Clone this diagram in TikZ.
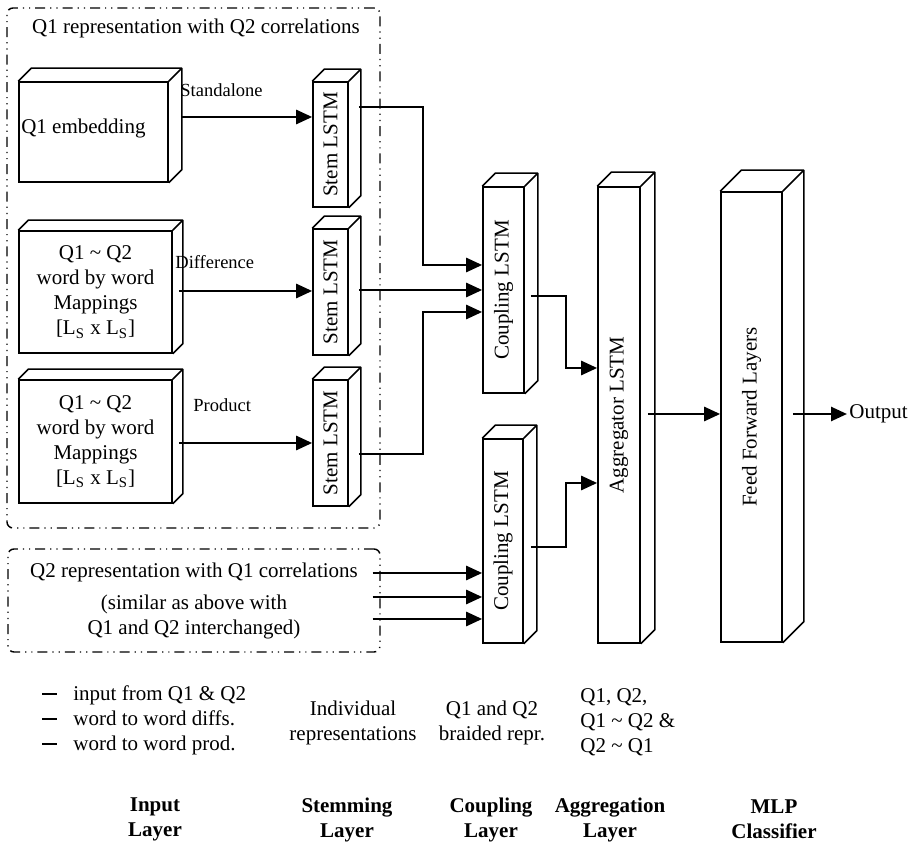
\documentclass[tikz,border=0pt]{standalone}
\usepackage{fontspec}
\setmainfont{Liberation Serif}
\usetikzlibrary{arrows.meta,positioning}
\tikzset{>={Triangle[length=8pt,width=7pt]}}
\tikzset{
    box3d/.style={draw,line width=0.8pt,fill=white,inner sep=0pt,
        append after command={\pgfextra{
            \draw[line width=0.8pt,line join=round]
                (\tikzlastnode.north west) -- ++(#1,-#1)
                -- ([shift={(#1,-#1)}]\tikzlastnode.north east)
                -- ([shift={(#1,-#1)}]\tikzlastnode.south east)
                -- (\tikzlastnode.south east)
                (\tikzlastnode.north east) -- ++(#1,-#1);}}},
    box3d/.default=12,
    frame/.style={draw,line width=0.7pt,rounded corners=3pt,
        dash pattern=on 5pt off 2.5pt on 0.6pt off 2.5pt on 0.6pt off 2.5pt},
    flow/.style={->,line width=1.3pt},
    edgelabel/.style={font=\fontsize{9.25}{11}\selectfont,anchor=west,inner sep=0pt},
    layername/.style={font=\fontsize{10.5}{12.5}\selectfont\bfseries,align=center}
}
\newcommand{\legdash}{\rule[2.6pt]{7.5pt}{0.9pt}\hspace{8pt}}

\begin{document}
\begin{tikzpicture}[x=0.5pt,y=-0.5pt,font=\fontsize{10.5}{12.5}\selectfont]
                \useasboundingbox (0,0) rectangle (912,845);
                % input side
                \node[frame,minimum width=186.5pt,minimum height=260pt] (q1rep) at (193.5,268) {};
                \node (q1title) at (196,28) {Q1 representation with Q2 correlations};
                \node[frame,minimum width=186pt,minimum height=51.5pt,align=center] (q2rep) at (194,600.5)
                    {Q2 representation with Q1 correlations\\[3.5pt](similar as above with\\Q1 and Q2 interchanged)};
                \node[box3d=13,minimum width=74.5pt,minimum height=50pt,
                    label={[anchor=west,xshift=-2pt,yshift=2pt]west:Q1 embedding}] (emb) at (93.5,132) {};
                \node[box3d=10,minimum width=76.5pt,minimum height=61pt,align=center] (map1) at (95.5,292)
                    {Q1 \textasciitilde{} Q2\\word by word\\Mappings\\{[}L\textsubscript{S} x L\textsubscript{S}{]}};
                \node[box3d=10,minimum width=76.5pt,minimum height=61.5pt,align=center] (map2) at (95.5,441.5)
                    {Q1 \textasciitilde{} Q2\\word by word\\Mappings\\{[}L\textsubscript{S} x L\textsubscript{S}{]}};
                % stemming
                \node[box3d,minimum width=17.5pt,minimum height=62.5pt,label={[rotate=90]center:Stem LSTM}] (stem1) at (330.5,144.5) {};
                \node[box3d,minimum width=17.5pt,minimum height=63pt,label={[rotate=90]center:Stem LSTM}] (stem2) at (330.5,292) {};
                \node[box3d,minimum width=17.5pt,minimum height=63pt,label={[rotate=90]center:Stem LSTM}] (stem3) at (330.5,443) {};
                % coupling, aggregation, classifier
                \node[box3d=13,minimum width=20.5pt,minimum height=103pt,label={[rotate=90]center:Coupling LSTM}] (coup1) at (503.5,290) {};
                \node[box3d=13,minimum width=20pt,minimum height=102pt,label={[rotate=90]center:Coupling LSTM}] (coup2) at (503,541) {};
                \node[box3d=14,minimum width=21pt,minimum height=228pt,label={[rotate=90]center:Aggregator LSTM}] (aggr) at (619,415) {};
                \node[box3d=21,minimum width=30.5pt,minimum height=225pt,label={[rotate=90]center:Feed Forward Layers}] (ffl) at (751.5,417) {};
                \node[anchor=west,inner sep=0pt] (out) at (849,414) {Output};

                \node[edgelabel] (lstand) at (180,90) {Standalone};
                \node[edgelabel] (ldiff) at (175,262) {Difference};
                \node[edgelabel] (lprod) at (193,405) {Product};

                \draw[flow] ([shift={(12,-15)}]emb.east) coordinate (e1) -- (e1 -| stem1.west);
                \draw[flow] ([shift={(6,-1)}]map1.east) coordinate (e2) -- (e2 -| stem2.west);
                \draw[flow] ([shift={(6,1.5)}]map2.east) coordinate (e3) -- (e3 -| stem3.west);
                \draw[flow] ([shift={(10,-37.5)}]stem1.east) -- ++(64,0) |- ([shift={(0,-25)}]coup1.west);
                \draw[flow] ([shift={(10,-2)}]stem2.east) -- (coup1.west);
                \draw[flow] ([shift={(10,11)}]stem3.east) -- ++(64,0) |- ([shift={(0,22)}]coup1.west);
                \foreach \dy in {-27.5,-3.5,18.5}
                    \draw[flow] ([shift={(-8,\dy)}]q2rep.east) coordinate (q) -- (q -| coup2.west);
                \draw[flow] ([shift={(6,6)}]coup1.east) -- ++(35,0) |- ([shift={(0,-47)}]aggr.west);
                \draw[flow] ([shift={(7,6)}]coup2.east) -- ++(35,0) |- ([shift={(0,68)}]aggr.west);
                \draw[flow] ([shift={(7,-1)}]aggr.east) coordinate (e4) -- (e4 -| ffl.west);
                \draw[flow] ([shift={(10,-3)}]ffl.east) -- ([xshift=-1pt]out.west);

                % captions under the layers
                \node[anchor=west,align=left,inner sep=0pt] (legend) at (42,720)
                    {\legdash input from Q1 \& Q2\\\legdash word to word diffs.\\\legdash word to word prod.};
                \node[align=center] (stemtxt) at (353,722.5) {Individual\\representations};
                \node[align=center] (couptxt) at (492,722.5) {Q1 and Q2\\braided repr.};
                \node[anchor=west,align=left,inner sep=0pt] (aggtxt) at (580,722)
                    {Q1, Q2,\\Q1 \textasciitilde{} Q2 \&\\Q2 \textasciitilde{} Q1};
                \foreach \x/\txt/\nm in {155/Input/inl,347/Stemming/stl,491/Coupling/cpl,610/Aggregation/agl}
                    \node[layername] (\nm) at (\x,819.5) {\txt\\Layer};
                \node[layername] (mlp) at (774,819.5) {MLP\\Classifier};
            \end{tikzpicture}
\end{document}
